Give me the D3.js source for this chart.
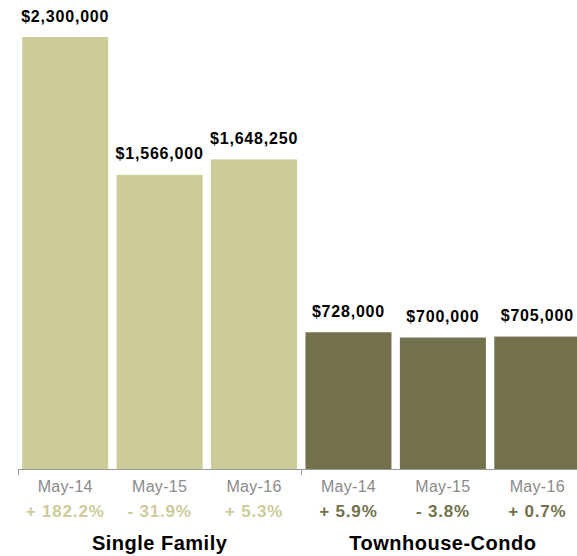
<!DOCTYPE html>
<html>
<head>
<meta charset="utf-8">
<script src="https://cdn.jsdelivr.net/npm/d3@7/dist/d3.min.js"></script>
<style>
  html, body { margin: 0; padding: 0; background: #fff; }
  svg { display: block; font-family: "Liberation Sans", Arial, Helvetica, sans-serif; }
</style>
</head>
<body>
<svg id="chart" width="577" height="556"></svg>
<script>
// Median sale price by property type, May of each year
const groups = ["Single Family", "Townhouse-Condo"];
const periods = ["May-14", "May-15", "May-16"];
const singleFamily = [2300000, 1566000, 1648250];
const townhouseCondo = [728000, 700000, 705000];
const singleFamilyChange = ["+ 182.2%", "- 31.9%", "+ 5.3%"];
const townhouseCondoChange = ["+ 5.9%", "- 3.8%", "+ 0.7%"];
const groupColors = ["#cdcb98", "#72714b"];

const rows = [];
[singleFamily, townhouseCondo].forEach((vals, g) => {
  const changes = g === 0 ? singleFamilyChange : townhouseCondoChange;
  vals.forEach((v, i) => rows.push({
    key: groups[g] + "|" + periods[i],
    group: g, period: periods[i], value: v, change: changes[i]
  }));
});

const svg = d3.select("#chart");
const baseY = 469;

const x = d3.scaleBand()
  .domain(rows.map(d => d.key))
  .range([18, 584.5])
  .paddingInner(0.089)
  .paddingOuter(0.0445);

const y = d3.scaleLinear()
  .domain([0, 2300000])
  .range([baseY, 37]);

const fmt = d3.format("$,");

// bars
svg.append("g").selectAll("rect")
  .data(rows)
  .join("rect")
  .attr("x", d => x(d.key))
  .attr("y", d => y(d.value))
  .attr("width", x.bandwidth())
  .attr("height", d => baseY - y(d.value))
  .attr("fill", d => groupColors[d.group]);

// value labels
svg.append("g").selectAll("text")
  .data(rows)
  .join("text")
  .attr("x", d => x(d.key) + x.bandwidth() / 2)
  .attr("y", d => y(d.value) - 15.5)
  .attr("text-anchor", "middle")
  .attr("font-size", "16px")
  .attr("letter-spacing", "0.8px")
  .attr("font-weight", "bold")
  .attr("fill", "#000")
  .text(d => fmt(d.value));

// baseline axis with group dividers
const step = x.step();
const axis = svg.append("g");
axis.append("line")
  .attr("x1", 18).attr("x2", 577)
  .attr("y1", baseY + 0.5).attr("y2", baseY + 0.5)
  .attr("stroke", "#999").attr("stroke-width", 1);
[0, 3].forEach(i => {
  const gx = Math.round(18 + i * step) + 0.5;
  axis.append("line")
    .attr("x1", gx).attr("x2", gx)
    .attr("y1", baseY).attr("y2", baseY + 6)
    .attr("stroke", "#999").attr("stroke-width", 1);
});

// period labels
svg.append("g").selectAll("text")
  .data(rows)
  .join("text")
  .attr("x", d => x(d.key) + x.bandwidth() / 2)
  .attr("y", 492)
  .attr("text-anchor", "middle")
  .attr("font-size", "16px")
  .attr("letter-spacing", "0.3px")
  .attr("fill", "#8a8a8a")
  .text(d => d.period);

// year-over-year change labels
svg.append("g").selectAll("text")
  .data(rows)
  .join("text")
  .attr("x", d => x(d.key) + x.bandwidth() / 2)
  .attr("y", 517)
  .attr("text-anchor", "middle")
  .attr("font-size", "17px")
  .attr("letter-spacing", "0.8px")
  .attr("font-weight", "bold")
  .attr("fill", d => groupColors[d.group])
  .text(d => d.change);

// group titles
svg.append("g").selectAll("text")
  .data(groups)
  .join("text")
  .attr("x", (d, g) => 18 + step * (g * 3 + 1.5))
  .attr("y", 550)
  .attr("text-anchor", "middle")
  .attr("font-size", "20px")
  .attr("letter-spacing", "0.5px")
  .attr("font-weight", "bold")
  .attr("fill", "#000")
  .text(d => d);
</script>
</body>
</html>
